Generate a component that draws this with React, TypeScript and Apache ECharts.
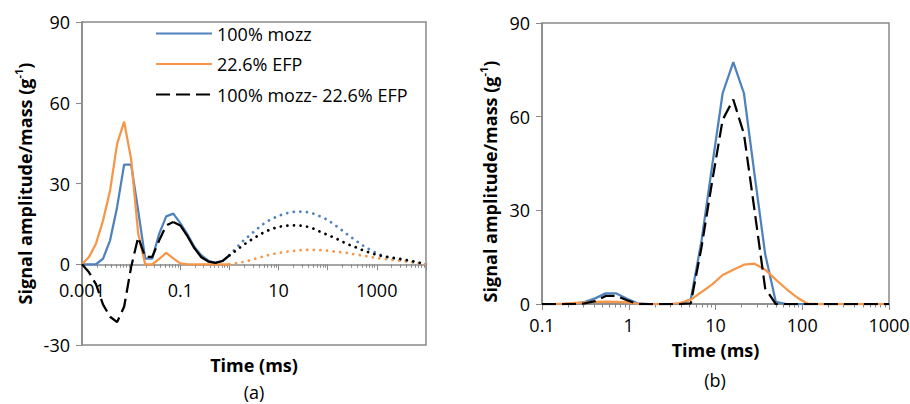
import React, { useEffect, useRef } from 'react';
import * as echarts from 'echarts';

// ---------- Panel (a) data ----------
const timeA = [
  0.001, 0.001389, 0.001931, 0.002683, 0.003728, 0.005179, 0.007197,
  0.01, 0.01389, 0.01931, 0.02683, 0.03728, 0.05179, 0.07197,
  0.1, 0.1389, 0.1931, 0.2683, 0.3728, 0.5179, 0.7197,
  1, 1.389, 1.931, 2.683, 3.728, 5.179, 7.197,
  10, 13.89, 19.31, 26.83, 37.28, 51.79, 71.97,
  100, 138.9, 193.1, 268.3, 372.8, 517.9, 719.7,
  1000, 1389, 1931, 2683, 3728, 5179, 7197,
  10000,
];
const mozzA = [
  0, 0, 0, 2.1, 8.9, 21.2, 37,
  37, 20, 2.1, 2.1, 11.4, 17.8, 18.8,
  15.3, 11.2, 6.5, 3.3, 1.3, 0.5, 1.2,
  3.3, 6.2, 8.8, 11, 13.2, 15.3, 16.8,
  18, 18.9, 19.4, 19.6, 19.4, 18.8, 17.7,
  16.5, 14.6, 12.7, 10.7, 8.8, 7.0, 5.4,
  4.1, 3.0, 2.2, 1.6, 1.2, 0.8, 0.4,
  0,
];
const efpA = [
  0, 2.7, 7.7, 16.3, 27.4, 44.7, 53,
  39, 11.5, 0, 0, 2, 4.2, 2.2,
  0.3, 0, 0, 0, 0, 0, 0,
  0, 0.4, 0.9, 1.5, 2.3, 3.0, 3.7,
  4.2, 4.6, 4.9, 5.2, 5.3, 5.3, 5.2,
  5.0, 4.7, 4.4, 4.1, 3.6, 3.2, 2.8,
  2.3, 2.0, 1.7, 1.4, 1.1, 0.8, 0.4,
  0,
];
const diffA = [
  0, -3, -7.5, -15, -19.5, -21.5, -15.8,
  -1, 10, 2.7, 2.7, 8.9, 14.4, 15.7,
  14.4, 10.5, 6, 2.6, 1, 0.5, 1.2,
  3.3, 5.2, 7.2, 8.9, 10.5, 12.0, 13.1,
  13.9, 14.3, 14.4, 14.4, 14.0, 13.2, 12.0,
  10.9, 9.8, 8.5, 7.3, 6.3, 5.2, 4.3,
  3.5, 2.9, 2.5, 2.1, 1.7, 1.2, 0.6,
  0,
];
const dashEndA = 13; // index where the difference curve turns from dashed to solid
const solidEndA = 21; // index (1 ms) where all curves of panel (a) turn dotted
const xLabelsA = ['0.001', '0.1', '10', '1000'];

// ---------- Panel (b) data ----------
const timeB = [
  0.1, 0.1326, 0.1758, 0.2331, 0.309, 0.41, 0.543, 0.72,
  0.955, 1.266, 1.679, 2.226, 2.951, 3.912, 5.188, 6.879,
  9.12, 12.09, 16.03, 21.26, 28.18, 37.37, 49.55, 65.69,
  87.1, 115.5, 153.1, 203, 269.2, 356.9, 473.2, 627.4,
  831.8, 1000,
];
const mozzB = [
  0, 0, 0, 0.1, 0.6, 1.8, 3.4, 3.4,
  1.7, 0.2, 0, 0, 0, 0, 1.5, 20,
  44, 67.5, 77.5, 67.5, 41.5, 16, 0.7, 0,
  0, 0, 0, 0, 0, 0, 0, 0,
  0, 0,
];
const efpB = [
  0, 0, 0.1, 0.3, 0.5, 0.7, 0.8, 0.7,
  0.5, 0.1, 0, 0, 0, 0.3, 1.4, 3.8,
  6.2, 9.3, 11, 12.6, 12.9, 11, 7.8, 4.8,
  2.1, 0.1, 0, 0, 0, 0, 0, 0,
  0, 0,
];
const diffB = [
  0, 0, 0, 0, 0.2, 0.9, 2.6, 2.6,
  1.2, 0, 0, 0, 0, 0, 0.2, 18,
  39, 59, 65.5, 54.5, 30, 5, 0, 0,
  0, 0, 0, 0, 0, 0, 0, 0,
  0, 0,
];
const xLabelsB = ['0.1', '1', '10', '100', '1000'];

const seriesNames = ['100% mozz', '22.6% EFP', '100% mozz- 22.6% EFP'];

const BLUE = '#4F81BD';
const ORANGE = '#F79646';
const BLACK = '#000000';
const AXIS = '#898989';
const FONT = 'Open Sans';

// plot-area layout (pixels)
const gridA = { left: 82, top: 22, width: 344, height: 323 };
const gridB = { left: 542, top: 23, width: 347, height: 281 };
const yMinA = -30;
const yMinB = 0;
const yMax = 90;

function pairs(t: number[], v: number[], from: number, to: number) {
  const out: number[][] = [];
  for (let i = from; i <= to; i++) out.push([t[i], v[i]]);
  return out;
}

function minorTicks(e0: number, e1: number) {
  const out: number[] = [];
  for (let e = e0; e < e1; e++) {
    for (let m = 2; m <= 9; m++) out.push(+(m * Math.pow(10, e)).toPrecision(6));
  }
  return out;
}

function labelFor(list: string[]) {
  return (v: number) => {
    const lv = Math.log10(v);
    const hit = list.find((s) => Math.abs(Math.log10(parseFloat(s)) - lv) < 1e-6);
    return hit ?? '';
  };
}

const solid = (c: string) => ({ color: c, width: 2.25, type: 'solid' });
const dashed = { color: BLACK, width: 2.25, type: [14, 6] };
const dotted = (c: string) => ({ color: c, width: 2.75, type: [0.01, 6.6], cap: 'round' });

function line(name: string, data: number[][], lineStyle: any, xi: number, yi: number) {
  return {
    type: 'line',
    name,
    data,
    xAxisIndex: xi,
    yAxisIndex: yi,
    symbol: 'none',
    showSymbol: false,
    smooth: false,
    silent: true,
    lineStyle,
    itemStyle: { color: lineStyle.color },
  };
}

// main x axis: line, decade ticks, labels and title, lifted to the zero line
function majorX(grid: number, min: number, max: number, labels: string[], nameGap: number, labelMargin: number, lift: number) {
  return {
    gridIndex: grid,
    type: 'log',
    logBase: 10,
    min,
    max,
    position: 'bottom',
    offset: -lift,
    axisLine: { show: true, onZero: false, lineStyle: { color: AXIS, width: 1.5 } },
    axisTick: { show: true, inside: false, length: 6, lineStyle: { color: AXIS, width: 1 } },
    axisLabel: { show: true, formatter: labelFor(labels), fontSize: 18, fontFamily: FONT, color: '#000', margin: labelMargin },
    splitLine: { show: false },
    minorTick: { show: false },
    name: 'Time (ms)',
    nameLocation: 'middle',
    nameGap,
    nameTextStyle: { fontSize: 18, fontWeight: 'bold', fontFamily: FONT, color: '#000' },
  };
}

// second, label-less axis carrying the 2..9 minor ticks
function minorX(grid: number, min: number, max: number, ticks: number[], lift: number) {
  return {
    gridIndex: grid,
    type: 'log',
    logBase: 10,
    min,
    max,
    position: 'bottom',
    offset: -lift,
    axisLine: { show: false, onZero: false },
    axisTick: { show: true, inside: false, length: 3.5, customValues: ticks, lineStyle: { color: AXIS, width: 1 } },
    axisLabel: { show: false },
    splitLine: { show: false },
  };
}

function valueY(grid: number, min: number) {
  return {
    gridIndex: grid,
    type: 'value',
    min,
    max: yMax,
    interval: 30,
    axisLine: { show: true, onZero: false, lineStyle: { color: AXIS, width: 1.5 } },
    axisTick: { show: true, inside: false, length: 6, lineStyle: { color: AXIS, width: 1 } },
    axisLabel: { show: true, fontSize: 18, fontFamily: FONT, color: '#000', margin: 12 },
    splitLine: { show: false },
  };
}

function yTitle(x: number, y: number) {
  return {
    type: 'text',
    x,
    y,
    rotation: Math.PI / 2,
    silent: true,
    style: {
      text: 'Signal amplitude/mass (g{sup|-1})',
      fontSize: 18,
      fontWeight: 'bold',
      fontFamily: FONT,
      fill: '#000',
      align: 'center',
      verticalAlign: 'middle',
      lineHeight: 24,
      rich: {
        sup: { fontSize: 11, fontWeight: 'bold', fontFamily: FONT, fill: '#000', verticalAlign: 'top', lineHeight: 12 },
      },
    },
  };
}

export default function App() {
  const ref = useRef<HTMLDivElement>(null);

  useEffect(() => {
    if (!ref.current) return;
    const chart = echarts.init(ref.current, undefined, { renderer: 'svg' });

    const series = [
      // panel (a)
      line(seriesNames[0], pairs(timeA, mozzA, 0, solidEndA), solid(BLUE), 0, 0),
      line(seriesNames[1], pairs(timeA, efpA, 0, solidEndA), solid(ORANGE), 0, 0),
      line(seriesNames[2], pairs(timeA, diffA, 0, dashEndA), dashed, 0, 0),
      line(seriesNames[2], pairs(timeA, diffA, dashEndA, solidEndA), solid(BLACK), 0, 0),
      line(seriesNames[0], pairs(timeA, mozzA, solidEndA, timeA.length - 1), dotted(BLUE), 0, 0),
      line(seriesNames[1], pairs(timeA, efpA, solidEndA, timeA.length - 1), dotted(ORANGE), 0, 0),
      line(seriesNames[2], pairs(timeA, diffA, solidEndA, timeA.length - 1), dotted(BLACK), 0, 0),
      // panel (b)
      line(seriesNames[0], pairs(timeB, mozzB, 0, timeB.length - 1), solid(BLUE), 2, 1),
      line(seriesNames[1], pairs(timeB, efpB, 0, timeB.length - 1), solid(ORANGE), 2, 1),
      line(seriesNames[2], pairs(timeB, diffB, 0, timeB.length - 1), dashed, 2, 1),
    ];

    // distance of the zero line above the bottom of panel (a)
    const zeroLiftA = (gridA.height * (0 - yMinA)) / (yMax - yMinA);

    const option: any = {
      animation: false,
      backgroundColor: '#ffffff',
      textStyle: { fontFamily: FONT },
      grid: [
        { ...gridA, show: true, borderColor: AXIS, borderWidth: 1.5, backgroundColor: 'transparent', containLabel: false, outerBoundsMode: 'none' },
        { ...gridB, show: true, borderColor: AXIS, borderWidth: 1.5, backgroundColor: 'transparent', containLabel: false, outerBoundsMode: 'none' },
      ],
      xAxis: [
        majorX(0, 0.001, 10000, xLabelsA, 92, 17, zeroLiftA),
        minorX(0, 0.001, 10000, minorTicks(-3, 4), zeroLiftA),
        majorX(1, 0.1, 1000, xLabelsB, 37, 12, 0),
        minorX(1, 0.1, 1000, minorTicks(-1, 3), 0),
      ],
      yAxis: [valueY(0, yMinA), valueY(1, yMinB)],
      legend: {
        show: true,
        data: seriesNames,
        orient: 'vertical',
        left: 155,
        top: 23.5,
        itemWidth: 56,
        itemHeight: 14,
        itemGap: 10.5,
        padding: 0,
        selectedMode: false,
        itemStyle: { opacity: 0 },
        textStyle: { fontSize: 18, fontFamily: FONT, color: '#000', lineHeight: 20 },
      },
      graphic: [
        yTitle(25, 183.5),
        yTitle(490, 181.5),
        { type: 'text', x: 254, y: 392, silent: true, style: { text: '(a)', fontSize: 18, fontFamily: FONT, fill: '#000', align: 'center', verticalAlign: 'middle' } },
        { type: 'text', x: 715, y: 380, silent: true, style: { text: '(b)', fontSize: 18, fontFamily: FONT, fill: '#000', align: 'center', verticalAlign: 'middle' } },
      ],
      series,
    };

    chart.setOption(option);
    return () => chart.dispose();
  }, []);

  return (
    <div
      ref={ref}
      style={{ position: 'fixed', left: 0, top: 0, width: 910, height: 404, background: '#fff' }}
    />
  );
}
